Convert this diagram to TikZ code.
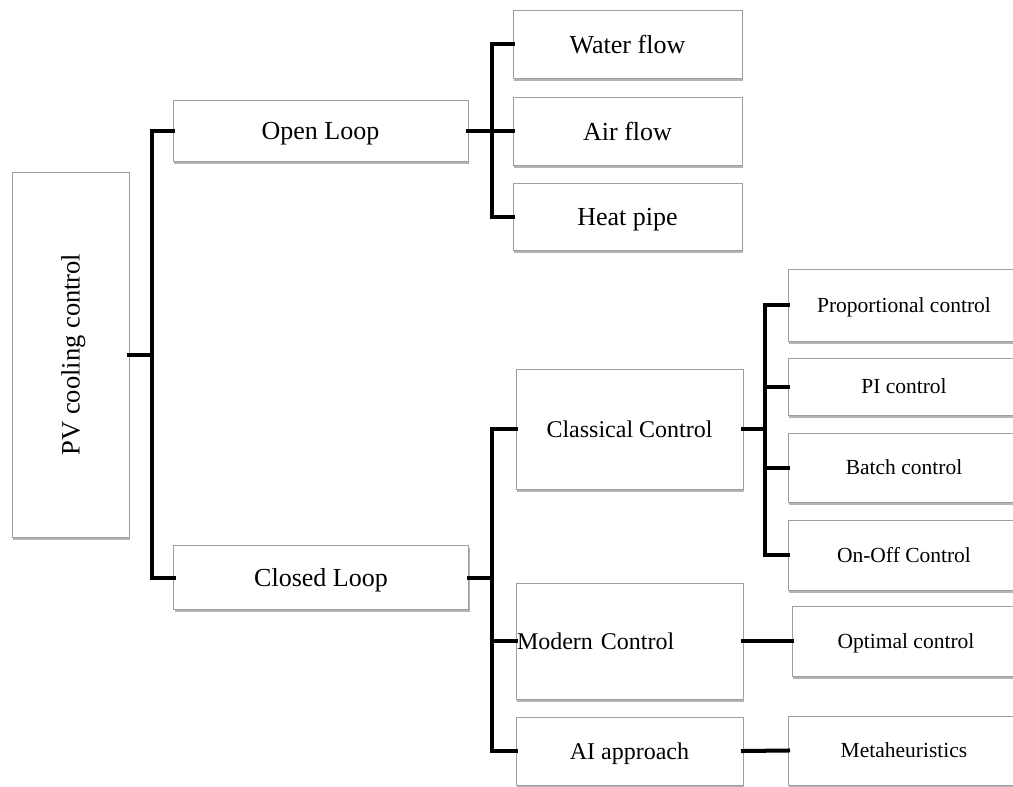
\documentclass[tikz,border=0pt]{standalone}
\usepackage{fontspec}
\setmainfont{Liberation Serif}
\usetikzlibrary{shadows}
\begin{document}
\begin{tikzpicture}[x=1pt,y=-1pt,
  box/.style={draw=black!38, line width=0.9pt, fill=white, inner sep=0pt, outer sep=0pt, text depth=0pt,
    drop shadow={shadow xshift=1.2pt, shadow yshift=-2.5pt, opacity=0.45, fill=black!65}},
  big/.style={font=\fontsize{26}{30}\selectfont},
  mid/.style={font=\fontsize{24}{28}\selectfont},
  small/.style={font=\fontsize{21.5}{25}\selectfont},
  conn/.style={line width=4pt, line cap=rect, line join=miter}]
\useasboundingbox (0,0) rectangle (1013,787);
\begin{scope}
\clip (0,0) rectangle (1013,787);
% level 0
\node[box, big, minimum width=117pt, minimum height=365pt] (pv) at (70.5,354.5) {};
\node[font=\fontsize{26.5}{30}\selectfont, rotate=90, text depth=0pt] (pvt) at (pv.center) {PV cooling control};
% level 1
\node[box, big, minimum width=295pt, minimum height=61pt] (open) at (320.5,130.5) {Open Loop};
\node[box, big, minimum width=295pt, minimum height=64pt] (closed) at (321,577.5) {Closed Loop};
% open loop children
\node[box, big, minimum width=229pt, minimum height=68pt] (water) at (627.5,44) {Water flow};
\node[box, big, minimum width=229pt, minimum height=68pt] (air) at (627.5,131) {Air flow};
\node[box, big, minimum width=229pt, minimum height=67pt] (heat) at (627.5,216.5) {Heat pipe};
% closed loop children
\node[box, mid, minimum width=227pt, minimum height=120pt] (classical) at (629.5,429) {Classical Control};
\node[box, mid, text width=227pt, align=left, minimum height=116pt] (modern) at (629.5,641) {\hspace*{1pt}Modern Control};
\node[box, mid, minimum width=227pt, minimum height=68pt] (ai) at (629.5,751) {AI approach};
% classical children
\node[box, small, minimum width=232pt, minimum height=72pt] (prop) at (904,305) {Proportional control};
\node[box, small, minimum width=232pt, minimum height=57pt] (pi) at (904,386.5) {PI control};
\node[box, small, minimum width=232pt, minimum height=69pt] (batch) at (904,467.5) {Batch control};
\node[box, small, minimum width=232pt, minimum height=70pt] (onoff) at (904,555) {On-Off Control};
% modern / ai children
\node[box, small, minimum width=228pt, minimum height=70pt] (optimal) at (906,641) {Optimal control};
\node[box, small, minimum width=232pt, minimum height=69pt] (meta) at (904,750.5) {Metaheuristics};
\end{scope}
% trunk coordinates
\coordinate (t1) at (152,0);
\coordinate (t2) at (492,0);
\coordinate (t3) at (765,0);
% PV -> open / closed
\draw[conn] (pv.east) -- (pv.east -| t1);
\draw[conn] (open.west) -- (open.west -| t1) -- (closed.west -| t1) -- (closed.west);
% open -> children
\draw[conn] (open.east) -- (open.east -| t2);
\draw[conn] (water.west) -- (water.west -| t2) -- (heat.west -| t2) -- (heat.west);
\draw[conn] (air.west -| t2) -- (air.west);
% closed -> children
\draw[conn] (closed.east) -- (closed.east -| t2);
\draw[conn] (classical.west) -- (classical.west -| t2) -- (ai.west -| t2) -- (ai.west);
\draw[conn] (modern.west -| t2) -- (modern.west);
% classical -> children
\draw[conn] (classical.east) -- (classical.east -| t3);
\draw[conn] (prop.west) -- (prop.west -| t3) -- (onoff.west -| t3) -- (onoff.west);
\draw[conn] (pi.west -| t3) -- (pi.west);
\draw[conn] (batch.west -| t3) -- (batch.west);
% modern / ai -> children
\draw[conn] (modern.east) -- (optimal.west);
\draw[conn] (ai.east) -- (meta.west);
\end{tikzpicture}
\end{document}
